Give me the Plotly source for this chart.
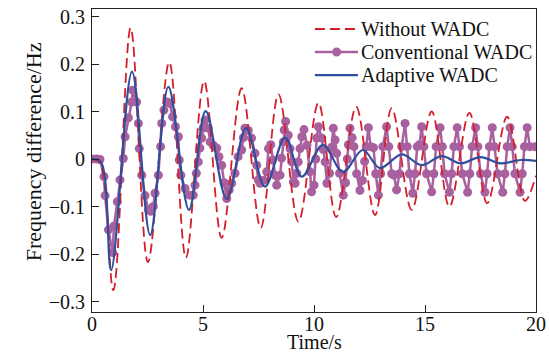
import plotly.graph_objects as go

# ---------------- data ----------------
# Without WADC: turning points of the dashed curve
t_without = [0.0, 0.35, 0.96, 1.74, 2.52, 3.48, 4.23, 5.05, 5.84, 6.74, 7.6, 8.4,
             9.3, 10.2, 11.0, 11.9, 12.75, 13.5, 14.4, 15.3, 16.1, 17.0, 17.8,
             18.7, 19.5, 20.0]
y_without = [0.0, -0.008, -0.276, 0.276, -0.217, 0.204, -0.208, 0.164, -0.166, 0.149,
             -0.145, 0.136, -0.132, 0.118, -0.122, 0.11, -0.118, 0.107, -0.107, 0.1,
             -0.1, 0.097, -0.093, 0.089, -0.088, -0.035]

# Adaptive WADC: turning points of the solid curve
t_adaptive = [0.0, 0.4, 0.86, 1.8, 2.62, 3.44, 4.37, 5.12, 6.07, 6.94, 7.79, 8.7,
              9.45, 10.4, 11.3, 12.2, 12.97, 13.95, 14.85, 15.75, 16.6, 17.5, 18.4,
              19.3, 20.0]
y_adaptive = [0.0, -0.006, -0.234, 0.184, -0.16, 0.152, -0.107, 0.101, -0.084, 0.065,
              -0.058, 0.045, -0.037, 0.03, -0.027, 0.019, -0.019, 0.01, -0.013, 0.006,
              -0.009, 0.004, -0.009, -0.002, -0.004]

# Conventional WADC: sampled points (markers)
t_conv = [0.0, 0.2, 0.36, 0.54, 0.59, 0.74, 0.93, 0.99, 1.14, 1.26, 1.41, 1.49, 1.64,
          1.79, 1.83, 2.01, 2.09, 2.13, 2.24, 2.39, 2.54, 2.65, 2.76, 2.84, 2.99, 3.09,
          3.14, 3.24, 3.39, 3.51, 3.63, 3.76, 3.89, 3.93, 4.0, 4.19, 4.41,
          4.56, 4.64, 4.7, 4.79, 4.86, 4.94, 5.0, 5.09, 5.24, 5.32, 5.46, 5.62, 5.72,
          5.84, 5.95, 6.07, 6.18, 6.29, 6.44, 6.58, 6.74, 6.82, 6.89, 7.04, 7.19, 7.34,
          7.42, 7.49, 7.57, 7.72, 7.87, 7.95, 8.05, 8.14, 8.24, 8.32, 8.47, 8.54, 8.62,
          8.66, 8.72, 8.84, 8.92, 9.0, 9.07, 9.15, 9.22, 9.29, 9.37, 9.45, 9.55, 9.68,
          9.82, 9.89, 10.0, 10.08, 10.12, 10.2, 10.35, 10.42, 10.5, 10.58, 10.7, 10.8,
          10.87, 10.95, 11.02, 11.15, 11.32, 11.42, 11.5, 11.55, 11.62,
          11.72, 11.8, 11.92, 12.07, 12.18, 12.28, 12.35, 12.45, 12.55, 12.68, 12.78,
          12.9, 13.0, 13.1, 13.27, 13.37, 13.5, 13.6, 13.72, 13.85, 13.95, 14.1, 14.2,
          14.3, 14.45, 14.55, 14.65, 14.75, 14.85, 14.95, 15.07, 15.3, 15.4, 15.5,
          15.68, 15.78, 15.88, 16.1, 16.2, 16.3, 16.45, 16.55, 16.68, 16.92, 17.02,
          17.12, 17.28, 17.38, 17.5, 17.7, 17.8, 17.9, 18.03, 18.13, 18.27, 18.5,
          18.6, 18.7, 18.83, 18.93, 19.05, 19.28, 19.38, 19.48, 19.6, 19.72, 19.95]
y_conv = [0.0, 0.0, -0.001, -0.037, -0.077, -0.149, -0.197, -0.141, -0.09, -0.044, 0.001,
          0.047, 0.087, 0.12, 0.145, 0.12, 0.075, 0.022, -0.034, -0.077, -0.107, -0.11,
          -0.1, -0.072, -0.034, 0.026, 0.075, 0.103, 0.12, 0.117, 0.089, 0.068, 0.047,
          -0.002, -0.034, -0.062, -0.076,
          -0.076, -0.055, -0.03, -0.006, 0.023, 0.044, 0.065, 0.082, 0.065, 0.036, 0.029,
          0.023, 0.005, -0.013, -0.05, -0.083, -0.065, -0.051, -0.03, 0.005, 0.019, 0.045,
          0.065, 0.06, 0.044, 0.012, -0.013, -0.044, -0.051, -0.045, -0.027, 0.022, 0.03,
          -0.002, -0.034, -0.055, -0.034, 0.002, 0.036, 0.061, 0.079, 0.05, 0.022, -0.006,
          -0.048, -0.051, -0.03, -0.006, 0.022, 0.047, 0.062, 0.029, -0.027, -0.069,
          -0.055, 0.0, 0.044, 0.068, 0.044, 0.02, -0.006, -0.051, -0.03, 0.025, 0.065,
          0.04, 0.012, -0.03, -0.076, -0.05, 0.0, 0.03, 0.065,
          0.045, 0.026, -0.031, -0.066, -0.045, -0.005, 0.026, 0.066, 0.026, 0.024,
          -0.031, -0.076, -0.031, 0.026, 0.068, 0.026, -0.031, -0.034, -0.065, -0.031,
          0.026, 0.075, 0.026, -0.031, -0.072, -0.031, 0.026, 0.03, 0.068, 0.026, -0.031,
          -0.069, -0.031, 0.026, 0.066, 0.026, -0.031, -0.07, -0.031, 0.026, 0.066,
          0.026, -0.031, -0.07, -0.031, 0.026, 0.066, 0.026, -0.031, -0.07, -0.031,
          0.026, 0.066, 0.026, -0.031, -0.07, -0.031, 0.026, 0.066, 0.026, -0.031,
          -0.07, -0.031, 0.026, 0.066, 0.026, 0.026]

series_names = ["Without WADC", "Conventional WADC", "Adaptive WADC"]
y_tick_vals = [0.3, 0.2, 0.1, 0.0, -0.1, -0.2, -0.3]
y_tick_text = ["0.3", "0.2", "0.1", "0", "\u22120.1", "\u22120.2", "\u22120.3"]
x_tick_vals = [0, 5, 10, 15, 20]
x_tick_text = ["0", "5", "10", "15", "20"]
x_title = "Time/s"
y_title = "Frequency difference/Hz"

RED = "#d21f2b"
PURPLE = "#a8609e"
BLUE = "#2f4e9b"
FONT = "Liberation Serif, Times New Roman, serif"

fig = go.Figure()
fig.add_trace(go.Scatter(
    x=t_conv, y=y_conv, mode="lines+markers", name=series_names[1],
    line=dict(color=PURPLE, width=2.5),
    marker=dict(color=PURPLE, size=9)))
fig.add_trace(go.Scatter(
    x=t_without, y=y_without, mode="lines", name=series_names[0],
    line=dict(color=RED, width=1.8, dash="10px,5px", shape="spline", smoothing=1.0)))
fig.add_trace(go.Scatter(
    x=t_adaptive, y=y_adaptive, mode="lines", name=series_names[2],
    line=dict(color=BLUE, width=2.2, shape="spline", smoothing=1.0)))

axis_common = dict(showline=True, linecolor="#222", linewidth=1, mirror=True,
                   ticks="inside", ticklen=7, tickcolor="#222", showgrid=False,
                   zeroline=False, automargin=False,
                   tickfont=dict(family=FONT, size=20, color="#111"))

# ---- hand-made legend (compact row spacing as in the reference) ----
leg_x0, leg_x1, leg_xm, leg_xt = 0.502, 0.599, 0.551, 0.602
leg_rows = [0.934, 0.858, 0.782]
leg_styles = [dict(color=RED, width=1.8, dash="10px,5px"),
              dict(color=PURPLE, width=2.5),
              dict(color=BLUE, width=2.2)]
shapes = []
annotations = []
for name, yrow, st in zip(series_names, leg_rows, leg_styles):
    shapes.append(dict(type="line", xref="paper", yref="paper",
                       x0=leg_x0, x1=leg_x1, y0=yrow, y1=yrow, line=st))
    annotations.append(dict(text=name, xref="paper", yref="paper", x=leg_xt, y=yrow,
                            xanchor="left", yanchor="middle", showarrow=False,
                            font=dict(family=FONT, size=20, color="#111")))
shapes.append(dict(type="circle", xref="paper", yref="paper",
                   xsizemode="pixel", ysizemode="pixel",
                   xanchor=leg_xm, yanchor=leg_rows[1],
                   x0=-4.5, x1=4.5, y0=-4.5, y1=4.5,
                   fillcolor=PURPLE, line=dict(color=PURPLE, width=0)))

annotations += [
    dict(text=x_title, xref="paper", yref="paper", x=0.5, y=-0.1,
         xanchor="center", yanchor="middle", showarrow=False,
         font=dict(family=FONT, size=20, color="#111")),
    dict(text=y_title, xref="paper", yref="paper", x=-0.133, y=0.53,
         xanchor="center", yanchor="middle", showarrow=False, textangle=-90,
         font=dict(family=FONT, size=22, color="#111")),
]

fig.update_layout(
    width=549, height=354,
    margin=dict(l=92, r=13, t=9, b=42),
    paper_bgcolor="white", plot_bgcolor="white",
    font=dict(family=FONT, size=20, color="#111"),
    xaxis=dict(range=[0, 20], tickvals=x_tick_vals, ticktext=x_tick_text,
               ticklabelstandoff=-6, **axis_common),
    yaxis=dict(range=[-0.322, 0.3158], tickvals=y_tick_vals, ticktext=y_tick_text,
               ticklabelstandoff=2, **axis_common),
    showlegend=False,
    shapes=shapes,
    annotations=annotations,
)

fig.write_html("out.html", config={"displayModeBar": False},
               post_script="document.body.style.margin='0px';")
